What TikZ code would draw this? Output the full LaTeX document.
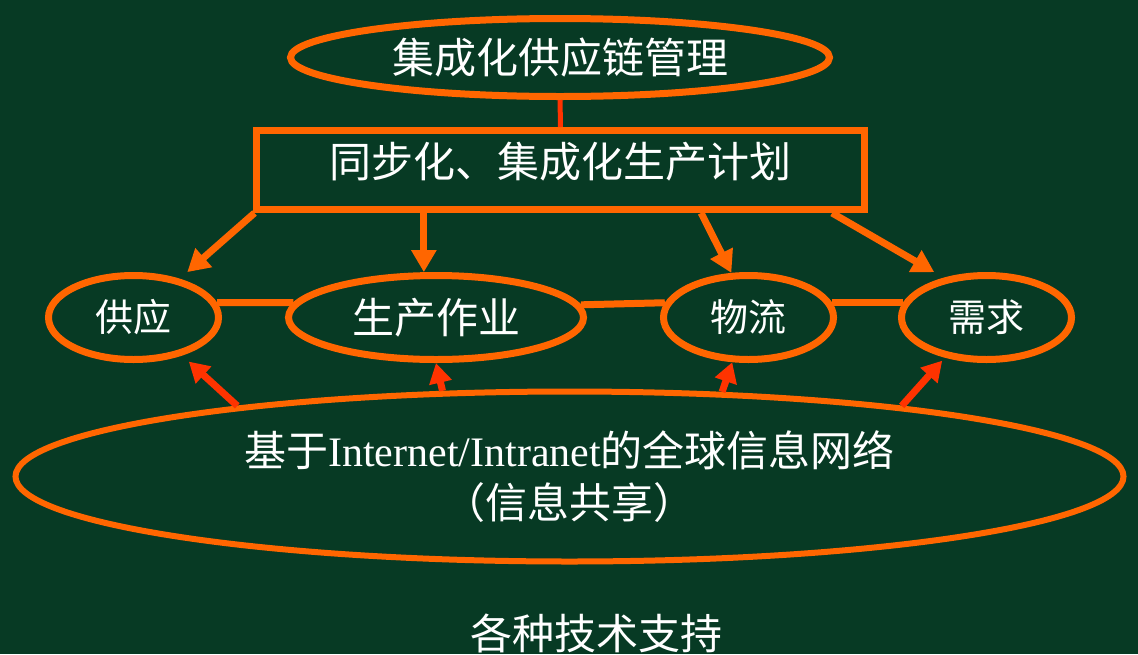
\documentclass[tikz,border=0pt]{standalone}
\usepackage{fontspec}
\usepackage{xcolor}
\usetikzlibrary{shapes.geometric,arrows.meta}
\setmainfont{Liberation Serif}
\newfontfamily\cjk{Noto Sans CJK SC}
\definecolor{board}{RGB}{7,58,36}
\definecolor{ora}{RGB}{255,102,0}
\definecolor{hot}{RGB}{255,51,0}
\tikzstyle{oval}=[
        draw = ora,
        line width = 7pt,
        ellipse,
        inner sep = 0pt,
        text = white
    ]
\tikzstyle{box}=[
    draw = ora,
    line width = 7pt,
    rectangle,
    inner sep = 0pt,
    text = white
]
\tikzstyle{flow}=[ora, line width = 7pt, -{Triangle[length=22pt,width=24pt]}]
\tikzstyle{share}=[hot, line width = 7pt, -{Triangle[length=20pt,width=22pt]}]

\begin{document}
\begin{tikzpicture}[x=1pt, y=-1pt, big/.style = {font=\cjk\fontsize{42}{52}\selectfont}, mid/.style = {font=\cjk\fontsize{38}{46}\selectfont}]
        \fill[board] (0,0) rectangle (1138,654);
        \useasboundingbox (0,0) rectangle (1138,654);

        \node[oval, big, minimum width=539pt, minimum height=78pt] (scm) at (560,57.5) {集成化供应链管理};
        \node[box, big, minimum width=608pt, minimum height=79pt, text depth=21pt] (plan) at (560.5,170) {同步化、集成化生产计划};

        \node[oval, mid, minimum width=170pt, minimum height=84pt] (gy) at (133.5,317.5) {供应};
        \node[oval, big, minimum width=295pt, minimum height=84pt] (sc) at (436,317.5) {生产作业};
        \node[oval, mid, minimum width=170pt, minimum height=84pt] (wl) at (748.5,317.5) {物流};
        \node[oval, mid, minimum width=170pt, minimum height=84pt] (xq) at (986.5,317.5) {需求};

        \node[oval, big, line width=6pt, minimum width=1108pt, minimum height=170pt, align=center] (net) at (569.5,476.5) {基于{\rmfamily Internet/Intranet}的全球信息网络\\（信息共享）};
        \node[big, text=white] (tech) at (596,633.5) {各种技术支持};

        \draw[hot, line width=5pt] (scm) -- (plan);
        \draw[ora, line width=7pt] (gy.10) -- (sc.174);
        \draw[ora, line width=7pt] (sc.5) -- (wl.170);
        \draw[ora, line width=7pt] (wl.10) -- (xq.170);

        \draw[flow, shorten >= 10pt] (plan.188) -- (gy.40);
        \draw[flow] (sc.105 |- plan.south) -- (sc.105);
        \draw[flow] (plan.-17.5) -- (wl.111);
        \draw[flow, shorten >= 11pt] (plan.-9) -- (xq.137);

        \draw[share, shorten >= 9pt] (net.168) -- (gy.-38);
        \draw[share] (net.146) -- (sc.south);
        \draw[share] (net.29) -- (wl.-110);
        \draw[share, shorten >= 4pt] (net.12) -- (xq.-136);

    \end{tikzpicture}
\end{document}
